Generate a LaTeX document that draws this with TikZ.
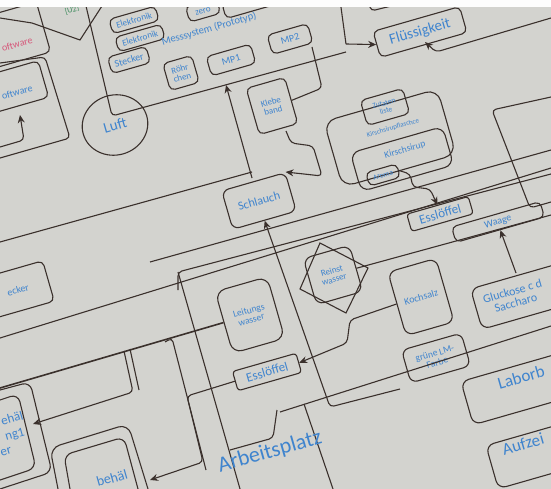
\documentclass[tikz,border=0pt]{standalone}
\usepackage{fontspec}
\setmainfont{Carlito}
\usetikzlibrary{arrows.meta,shapes.geometric}
\definecolor{paper}{HTML}{D3D3CF}
\definecolor{ink}{HTML}{3A302C}
\definecolor{txt}{HTML}{3F84CE}
\definecolor{pinktxt}{HTML}{D6587A}
\definecolor{greentxt}{HTML}{3A8A5A}
\newcommand{\fs}[1]{\fontsize{#1}{#1}\selectfont}
\tikzset{
  bx/.style={draw=ink, line width=1.1pt, rounded corners=5pt, rotate=16, inner sep=0pt},
  lbl/.style={rotate=16, align=center, text=txt, inner sep=0pt, font=\fs{9}},
  ln/.style={draw=ink, line width=1.1pt, rounded corners=4pt},
  arr/.style={ln, -{Stealth[length=8pt,width=7pt]}},
}
\begin{document}
\begin{tikzpicture}[x=1pt,y=-1pt]
\useasboundingbox (0,0) rectangle (551,489);
\fill[paper] (0,0) rectangle (551,489);
% --- top-left software boxes
\node[bx, minimum width=80, minimum height=52] (swp) at (5,38) {};
\node[lbl, text=pinktxt, font=\fs{10}] (swpt) at (17,44) {oftware};
\node[bx, minimum width=80, minimum height=38] (swb) at (5,90) {};
\node[lbl, font=\fs{10}] (swbt) at (17,92) {oftware};
\draw[ln] (0,63) -- (45,57) -- (70,138) -- (0,158);
\coordinate (a0) at (0,147);
\draw[arr] (a0) -- (24,140) -- (20,115);
% chevron + U2
\draw[ln,rounded corners=0] (0,18) -- (32,23) -- (80,40) -- (102,6);
\node[lbl, text=greentxt, font=\fs{8}] (u2) at (72,10) {[U2]};
% --- Messsystem
\node[draw=ink, line width=1.1pt, ellipse, rotate=16, minimum width=66, minimum height=60] (luft) at (115,125) {};
\node[lbl, font=\fs{15}] (luftt) at (luft) {Luft};
\draw[ln] (86,6) -- (112,116) -- (346,52);
\node[bx, minimum width=48, minimum height=15] (el1) at (134,20) {};
\node[lbl] (el1t) at (el1) {Elektronik};
\node[bx, minimum width=48, minimum height=15] (el2) at (140,38) {};
\node[lbl] (el2t) at (el2) {Elektronik};
\node[lbl, font=\fs{10.5}] (mess) at (209,29) {Messsystem (Prototyp)};
\node[bx, minimum width=40, minimum height=17] (stk) at (129,60) {};
\node[lbl, font=\fs{10}] (stkt) at (stk) {Stecker};
\node[bx, minimum width=30, minimum height=28] (roe) at (181,73) {};
\node[lbl] (roet) at (roe) {Röhr\\chen};
\node[bx, minimum width=46, minimum height=20] (mp1) at (231,60) {};
\node[lbl, font=\fs{10}] (mp1t) at (mp1) {MP1};
\node[bx, minimum width=42, minimum height=20] (mp2) at (290,39) {};
\node[lbl, font=\fs{10}] (mp2t) at (mp2) {MP2};
\node[bx, minimum width=32, minimum height=16] (zero) at (203,10) {};
\node[lbl] (zerot) at (203,11) {zero};
\node[bx, minimum width=50, minimum height=16] (chl) at (248,4) {};
\node[bx, minimum width=40, minimum height=48] (kle) at (272,106) {};
\node[lbl] (klet) at (kle) {Klebe\\band};
\node[bx, minimum width=90, minimum height=27] (fl) at (420,32) {};
\node[lbl, font=\fs{15}] (flt) at (fl) {Flüssigkeit};
\draw[ln] (340,0) -- (346,44);
\draw[arr] (346,44) -- (fl.west);
\draw[ln] (368,0) -- (371,11) -- (432,-4);
\coordinate (fr) at (551,18);
\draw[arr] (fr) -- (436,52) -- (425,42);
\draw[ln] (312,47) -- (322,88) -- (kle.east);
% Schlauch
\node[bx, minimum width=66, minimum height=40, rounded corners=7pt] (sch) at (259,201) {};
\node[lbl, font=\fs{12}] (scht) at (sch) {Schlauch};
\draw[arr] (252,178) -- (226,85);
\draw[ln] (0,242) -- (252,172);
\draw[arr] (286,131) -- (291,143) -- (313,146) -- (322,176) -- (sch.north east);
% Zutaten area
\node[bx, minimum width=118, minimum height=68, rounded corners=12pt] (zbig) at (390,138) {};
\node[bx, minimum width=44, minimum height=26] (zl) at (385,107) {};
\node[lbl, font=\fs{7.5}] (zlt) at (zl) {Zutaten\\liste};
\node[lbl, font=\fs{7}] (ksf) at (393,128) {Kirschsirupflaschce};
\node[bx, minimum width=96, minimum height=40, rounded corners=9pt] (ks) at (402,159) {};
\node[lbl, font=\fs{9.5}] (kst) at (405,150) {Kirschsirup};
\node[bx, minimum width=32, minimum height=14] (aro) at (383,175) {};
\node[lbl, font=\fs{7.5}] (arot) at (aro) {Aroma};
\node[bx, minimum width=64, minimum height=18, rounded corners=3pt] (es1) at (440,214) {};
\node[lbl, font=\fs{13}] (es1t) at (es1) {Esslöffel};
\draw[arr] (aro.east) -- (410,174) -- (413,187) -- (430,189) -- (es1.north);
\node[bx, minimum width=92, minimum height=16] (wg) at (498,222) {};
\node[lbl, font=\fs{10}] (wgt) at (wg) {Waage};
\draw[ln] (551,97) -- (492,110) -- (530,208) -- (551,202);
% long lines
\draw[ln] (150,262) -- (551,150);
\draw[ln] (0,338) -- (551,168);
\draw[ln] (178,290) -- (178,272) -- (551,174);
% Leitungswasser area
\node[bx, minimum width=54, minimum height=64, rounded corners=10pt] (lw) at (250,315) {};
\node[lbl, font=\fs{9.5}] (lwt) at (lw) {Leitungs\\wasser};
\draw[ln] (178,272) -- (240,489);
\draw[ln] (165,342) -- (172,338) -- (206,470);
\draw[ln, line width=1.6pt] (lw.west) -- (0,388);
\coordinate (tabt) at (124,351);
\draw[arr] (tabt) -- (133,392) -- (33,424);
\draw[ln] (130,349) -- (139,390);
% left containers
\draw[ln, rounded corners=8pt] (0,390) -- (30,382) -- (52,472) -- (0,489);
\draw[ln, rounded corners=8pt] (0,400) -- (18,394) -- (36,468) -- (0,480);
\node[lbl, font=\fs{13}] (b1) at (12,418) {ehäl};
\node[lbl, font=\fs{13}] (b2) at (15,435) {ng1};
\node[lbl, font=\fs{13}] (b3) at (6,452) {er};
\draw[ln, rounded corners=10pt] (58,489) -- (50,448) -- (128,424) -- (148,489);
\draw[ln, rounded corners=8pt] (70,489) -- (64,455) -- (124,437) -- (138,489);
\node[lbl, font=\fs{14}] (b4) at (112,478) {behäl};
% Stecker left
\node[bx, minimum width=80, minimum height=42] (stl) at (10,292) {};
\node[lbl, font=\fs{10}] (stlt) at (18,290) {ecker};
% Esslöffel 2
\node[bx, minimum width=66, minimum height=20, rounded corners=3pt] (es2) at (267,372) {};
\node[lbl, font=\fs{13}] (es2t) at (es2) {Esslöffel};
\draw[arr] (es2.west) -- (187,396) -- (203,462) -- (150,480);
% Reinstwasser group
\node[bx, minimum width=48, minimum height=48, rounded corners=8pt] (rw) at (333,275) {};
\node[lbl] (rwt) at (rw) {Reinst\\wasser};
\draw[draw=ink, line width=1.1pt] (320,243) -- (368,268) -- (346,313) -- (300,289) -- cycle;
\node[bx, minimum width=50, minimum height=66, rounded corners=8pt] (ko) at (421,297) {};
\node[lbl, font=\fs{10}] (kot) at (ko) {Kochsalz};
\draw[arr] (ko.west) -- (350,320) -- (347,343) -- (es2.east);
\node[bx, minimum width=62, minimum height=34, rounded corners=7pt] (gr) at (436,358) {};
\node[lbl, font=\fs{9.5}] (grt) at (gr) {grüne LM-\\Farbe};
\draw[arr] (400,389) -- (330,407) -- (sch.south);
\draw[ln] (rw.east) -- (551,215);
\draw[ln] (280,412) -- (551,326);
\draw[ln] (230,450) -- (273,438) -- (277,410);
\draw[ln] (304,404) -- (333,489);
\node[lbl, font=\fs{22}] (ap) at (270,452) {Arbeitsplatz};
% right boxes
\node[bx, minimum width=95, minimum height=42, rounded corners=8pt] (gl) at (522,296) {};
\node[lbl, font=\fs{12}] (glt) at (514,297) {Gluckose c d\\Saccharo};
\draw[arr] (516,273) -- (wg.south);
\node[bx, minimum width=110, minimum height=45, rounded corners=8pt] (lab) at (520,388) {};
\node[lbl, font=\fs{17}] (labt) at (521,377) {Laborb};
\node[bx, minimum width=110, minimum height=45, rounded corners=8pt] (auf) at (545,452) {};
\node[lbl, font=\fs{17}] (auft) at (523,444) {Aufzei};
% top white strip
\fill[white!95!paper] (0,0) rectangle (551,7);
\end{tikzpicture}
\end{document}
